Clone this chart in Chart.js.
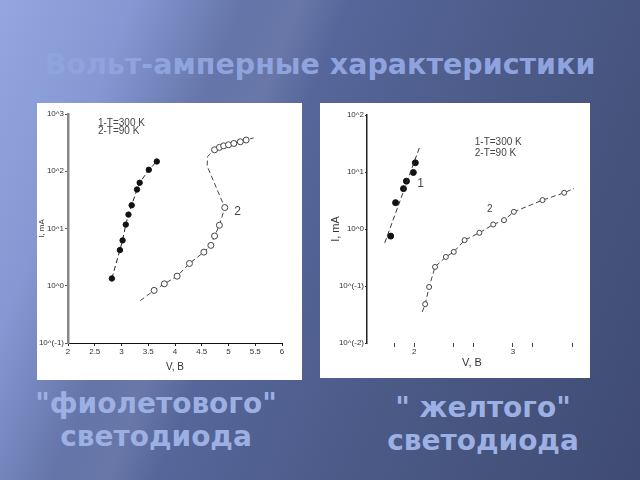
<!DOCTYPE html>
<html><head><meta charset="utf-8">
<script src="https://cdn.jsdelivr.net/npm/chart.js@4.4.0/dist/chart.umd.min.js"></script>
<style>
html,body{margin:0;padding:0;width:640px;height:480px;overflow:hidden}
body{position:relative;font-family:"DejaVu Sans",sans-serif;
background:
 linear-gradient(112deg, rgba(255,255,255,0) 30%, rgba(255,255,255,0.07) 36%, rgba(255,255,255,0) 42%),
 linear-gradient(112deg, #93a6de 0%, #8598d3 16%, #6676aa 29%, #56669a 42%, #4b5a87 65%, #3f4b72 100%);}
#title{position:absolute;left:0;width:640px;top:48px;text-align:center;font-weight:bold;font-size:28.5px;color:#8fa4de;white-space:nowrap}
.panel{position:absolute;background:#fff}
#p1{left:37px;top:103px;width:265px;height:277px}
#p2{left:320px;top:103px;width:270px;height:275px}
.cap{position:absolute;text-align:center;font-weight:bold;font-size:28px;color:#9cb0e4;line-height:33px;white-space:nowrap}
#cap1{left:6px;width:300px;top:387px}
#cap2{left:333px;width:300px;top:391px}
</style></head>
<body>
<div id="title">Вольт-амперные характеристики</div>
<div class="panel" id="p1"><canvas id="c1" width="265" height="277"></canvas></div>
<div class="panel" id="p2"><canvas id="c2" width="270" height="275"></canvas></div>
<div class="cap" id="cap1">"фиолетового"<br>светодиода</div>
<div class="cap" id="cap2">" желтого"<br>светодиода</div>
<script>
// ---- violet LED (left chart) ----
const violetV300 = [2.82, 2.97, 3.02, 3.08, 3.13, 3.19, 3.29, 3.34, 3.51, 3.66];
const violetI300 = [1.34, 4.2, 6.2, 11.7, 17.5, 25.5, 48, 63, 106, 148];
const violetV90 = [3.35, 3.61, 3.80, 4.04, 4.27, 4.54, 4.67, 4.74, 4.83, 4.93, 4.60, 4.61, 4.74, 4.83, 4.91, 5.00, 5.10, 5.22, 5.33, 5.47];
const violetI90 = [0.55, 0.83, 1.08, 1.47, 2.45, 3.87, 5.07, 7.4, 11.4, 23.2, 124, 181, 237, 261, 278, 290, 306, 327, 351, 384];
const violet90GuideOnly = [0, 10, 11, 19];
const violetXTicks = [2, 2.5, 3, 3.5, 4, 4.5, 5, 5.5, 6];
const violetYTicks = [0.1, 1, 10, 100, 1000];
const violetYLabels = ['10^(-1)', '10^0', '10^1', '10^2', '10^3'];

// ---- yellow LED (right chart) ----
const yellowV300 = [1.76, 1.81, 1.89, 1.92, 1.99, 2.01];
const yellowI300 = [0.75, 2.9, 5.1, 6.9, 9.8, 14.5];
const yellowFitV = [1.70, 2.06];
const yellowFitI = [0.57, 29.3];
const yellowV90 = [2.08, 2.11, 2.15, 2.21, 2.32, 2.40, 2.51, 2.66, 2.80, 2.91, 3.01, 3.30, 3.52, 3.62];
const yellowI90 = [0.035, 0.048, 0.096, 0.216, 0.324, 0.397, 0.637, 0.857, 1.2, 1.43, 2.0, 3.21, 4.32, 5.15];
const yellow90GuideOnly = [0, 13];
const yellowXTicks = [1.8, 2, 2.4, 2.6, 3, 3.2, 3.6];
const yellowXLabels = ['', '2', '', '', '3', '', ''];
const yellowYTicks = [0.01, 0.1, 1, 10, 100];
const yellowYLabels = ['10^(-2)', '10^(-1)', '10^0', '10^1', '10^2'];

const zip = (xs, ys) => xs.map((x, i) => ({x, y: ys[i]}));
const FONT = '"Liberation Sans", Arial, sans-serif';
const INK = '#333';

const notes = {
  id: 'notes',
  afterDatasetsDraw(chart, args, opts) {
    const {ctx, scales: {x, y}} = chart;
    ctx.save();
    ctx.fillStyle = '#444';
    ctx.textBaseline = 'middle';
    for (const n of opts.items) {
      ctx.font = n.size + 'px ' + FONT;
      ctx.textAlign = n.align || 'center';
      ctx.fillText(n.text, x.getPixelForValue(n.x), y.getPixelForValue(n.y));
    }
    ctx.restore();
  }
};

new Chart(document.getElementById('c1'), {
  type: 'scatter',
  data: {datasets: [
    {data: zip(violetV300, violetI300), showLine: true, borderColor: '#222', borderWidth: 1, borderDash: [5, 3],
     pointRadius: 2.7, pointBackgroundColor: '#111', pointBorderColor: '#111'},
    {data: zip(violetV90, violetI90), showLine: true, borderColor: '#444', borderWidth: 1, borderDash: [5, 3],
     pointRadius: c => violet90GuideOnly.includes(c.dataIndex) ? 0 : 3,
     pointBackgroundColor: '#fff', pointBorderColor: '#444', pointBorderWidth: 1}
  ]},
  options: {
    responsive: false, animation: false, devicePixelRatio: 1,
    layout: {padding: {left: 0, right: 20, top: 11, bottom: 0}},
    plugins: {legend: {display: false}, tooltip: {enabled: false},
      notes: {items: [
        {text: '1-T=300 K', x: 2.56, y: 683, size: 10, align: 'left'},
        {text: '2-T=90 K', x: 2.56, y: 494, size: 10, align: 'left'},
        {text: '2', x: 5.17, y: 19.6, size: 12}
      ]}},
    scales: {
      x: {type: 'linear', min: 2, max: 6,
        afterBuildTicks: s => { s.ticks = violetXTicks.map(v => ({value: v})); },
        afterFit: s => { s.height = 37; },
        ticks: {autoSkip: false, maxRotation: 0, padding: 1, color: INK, font: {family: FONT, size: 8}, callback: v => String(v)},
        grid: {drawOnChartArea: false, tickLength: 3, color: '#222'},
        border: {color: '#111', width: 1},
        title: {display: true, text: 'V, В', color: INK, font: {family: FONT, size: 10}, padding: {top: 0, bottom: 7}}},
      y: {type: 'logarithmic', min: 0.1, max: 1000,
        afterBuildTicks: s => { s.ticks = violetYTicks.map(v => ({value: v})); },
        afterFit: s => { s.width = 31; },
        ticks: {autoSkip: false, padding: 1, color: INK, font: {family: FONT, size: 8},
          callback: v => violetYLabels[violetYTicks.indexOf(v)]},
        grid: {drawOnChartArea: false, tickLength: 3, color: '#555'},
        border: {color: '#888', width: 2.5},
        title: {display: true, text: 'I, mA', color: INK, font: {family: FONT, size: 8}, padding: {top: 0, bottom: 0}}}
    }
  },
  plugins: [notes]
});

new Chart(document.getElementById('c2'), {
  type: 'scatter',
  data: {datasets: [
    {data: zip(yellowFitV, yellowFitI), showLine: true, borderColor: '#333', borderWidth: 1, borderDash: [5, 3], pointRadius: 0},
    {data: zip(yellowV300, yellowI300), showLine: false, pointRadius: 3, pointBackgroundColor: '#111', pointBorderColor: '#111'},
    {data: zip(yellowV90, yellowI90), showLine: true, borderColor: '#444', borderWidth: 1, borderDash: [5, 3],
     pointRadius: c => yellow90GuideOnly.includes(c.dataIndex) ? 0 : 2.5,
     pointBackgroundColor: '#fff', pointBorderColor: '#444', pointBorderWidth: 1}
  ]},
  options: {
    responsive: false, animation: false, devicePixelRatio: 1,
    layout: {padding: {left: 0, right: 13, top: 12, bottom: 0}},
    plugins: {legend: {display: false}, tooltip: {enabled: false},
      notes: {items: [
        {text: '1-T=300 K', x: 2.613, y: 33.7, size: 10, align: 'left'},
        {text: '2-T=90 K', x: 2.613, y: 21.6, size: 10, align: 'left'},
        {text: '1', x: 2.064, y: 6.2, size: 12},
        {text: '2', x: 2.766, y: 2.26, size: 10}
      ]}},
    scales: {
      x: {type: 'linear', min: 1.52, max: 3.65,
        afterBuildTicks: s => { s.ticks = yellowXTicks.map(v => ({value: v})); },
        afterFit: s => { s.height = 35; },
        ticks: {autoSkip: false, maxRotation: 0, padding: 0, color: INK, font: {family: FONT, size: 8},
          callback: v => yellowXLabels[yellowXTicks.indexOf(v)]},
        grid: {drawOnChartArea: false, tickLength: 4, color: '#444'},
        border: {display: false},
        title: {display: true, text: 'V, B', color: INK, font: {family: FONT, size: 11}, padding: {top: 0, bottom: 8}}},
      y: {type: 'logarithmic', min: 0.01, max: 100,
        afterBuildTicks: s => { s.ticks = yellowYTicks.map(v => ({value: v})); },
        afterFit: s => { s.width = 47; },
        ticks: {autoSkip: false, padding: 1, color: INK, font: {family: FONT, size: 8},
          callback: v => yellowYLabels[yellowYTicks.indexOf(v)]},
        grid: {drawOnChartArea: false, tickLength: 2, color: '#333'},
        border: {color: '#222', width: 1.5},
        title: {display: true, text: 'I, mA', color: INK, font: {family: FONT, size: 11}, padding: {top: 9, bottom: 0}}}
    }
  },
  plugins: [notes]
});
</script>
</body></html>
